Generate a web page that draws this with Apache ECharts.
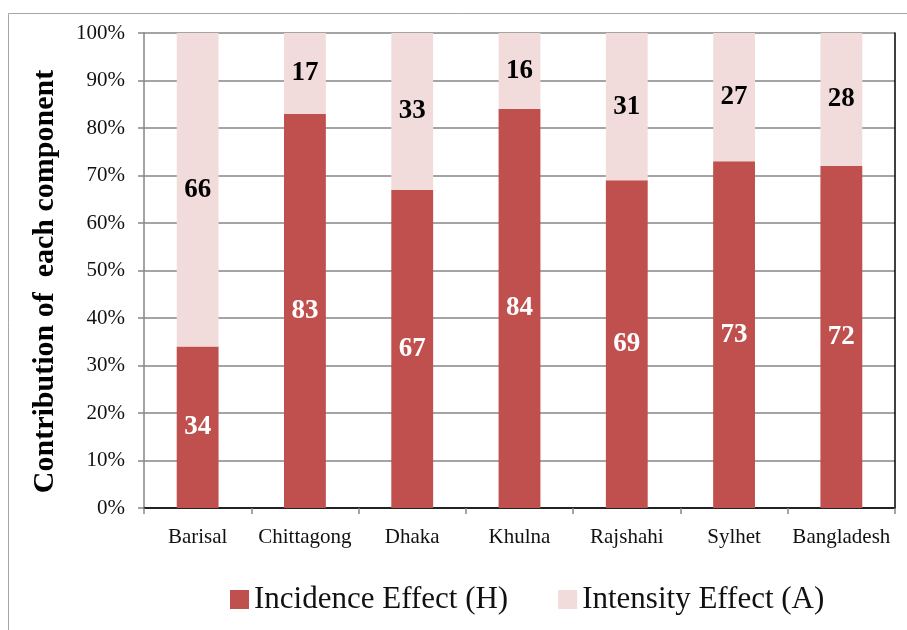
<!DOCTYPE html>
<html>
<head>
<meta charset="utf-8">
<script src="https://cdn.jsdelivr.net/npm/echarts@6/dist/echarts.min.js"></script>
<style>
html, body { margin: 0; padding: 0; background: #fff; }
#chart { width: 907px; height: 630px; }
</style>
</head>
<body>
<div id="chart"></div>
<script>
const categories = ['Barisal', 'Chittagong', 'Dhaka', 'Khulna', 'Rajshahi', 'Sylhet', 'Bangladesh']
const incidence = [34, 83, 67, 84, 69, 73, 72]
const intensity = [66, 17, 33, 16, 31, 27, 28]
const yTicks = [0, 10, 20, 30, 40, 50, 60, 70, 80, 90, 100]

const serif = "'Liberation Serif', 'DejaVu Serif', serif"

const chart = echarts.init(document.getElementById('chart'))
chart.setOption({
    animation: false,
    textStyle: { fontFamily: serif },
    graphic: [
        {
            type: 'rect',
            shape: { x: 8.5, y: 13.5, width: 1000, height: 1000 },
            style: { fill: 'none', stroke: '#a6a6a6', lineWidth: 1 },
            silent: true
        }
    ],
    grid: { left: 144, right: 12, top: 33, bottom: 122 },
    legend: {
        left: 230,
        top: 584,
        padding: 0,
        itemWidth: 19,
        itemHeight: 19,
        itemGap: 50,
        icon: 'rect',
        textStyle: { fontFamily: serif, fontSize: 31, color: '#111' },
        data: ['Incidence Effect (H)', 'Intensity Effect (A)']
    },
    xAxis: [
        {
            type: 'category',
            data: categories,
            axisLine: { lineStyle: { color: '#868686', width: 1.5 } },
            axisTick: { show: true, length: 6, lineStyle: { color: '#868686', width: 1.5 } },
            axisLabel: { color: '#111', fontSize: 21, margin: 19, interval: 0, fontFamily: serif }
        },
        {
            type: 'category',
            position: 'top',
            data: categories,
            axisLine: { lineStyle: { color: '#000', width: 1.5 } },
            axisTick: { show: false },
            axisLabel: { show: false }
        }
    ],
    yAxis: [
        {
            type: 'value',
            min: 0,
            max: 100,
            interval: 10,
            name: 'Contribution of  each component',
            nameLocation: 'middle',
            nameGap: 84,
            nameTextStyle: {
                fontFamily: serif,
                fontSize: 30,
                fontWeight: 'bold',
                color: '#000',
                padding: [0, 22, 0, 0]
            },
            axisLine: { show: true, lineStyle: { color: '#868686', width: 1.5 } },
            axisTick: { show: true, length: 6, lineStyle: { color: '#868686', width: 1.5 } },
            axisLabel: {
                color: '#111',
                fontSize: 21,
                margin: 19,
                fontFamily: serif,
                formatter: v => yTicks.includes(v) ? v + '%' : ''
            },
            splitLine: { lineStyle: { color: '#868686', width: 1.5 } }
        },
        {
            type: 'value',
            position: 'right',
            min: 0,
            max: 100,
            interval: 10,
            axisLine: { show: true, lineStyle: { color: '#000', width: 1.5 } },
            axisTick: { show: false },
            axisLabel: { show: false },
            splitLine: { show: false }
        }
    ],
    series: [
        {
            name: 'Incidence Effect (H)',
            type: 'bar',
            stack: 'total',
            data: incidence,
            barWidth: '39%',
            itemStyle: { color: '#C0504D' },
            label: {
                show: true,
                position: 'inside',
                color: '#fff',
                fontSize: 27,
                fontWeight: 'bold',
                fontFamily: serif
            }
        },
        {
            name: 'Intensity Effect (A)',
            type: 'bar',
            stack: 'total',
            data: intensity,
            barWidth: '39%',
            itemStyle: { color: '#F2DCDB' },
            label: {
                show: true,
                position: 'inside',
                color: '#000',
                fontSize: 27,
                fontWeight: 'bold',
                fontFamily: serif
            }
        }
    ]
})
</script>
</body>
</html>
